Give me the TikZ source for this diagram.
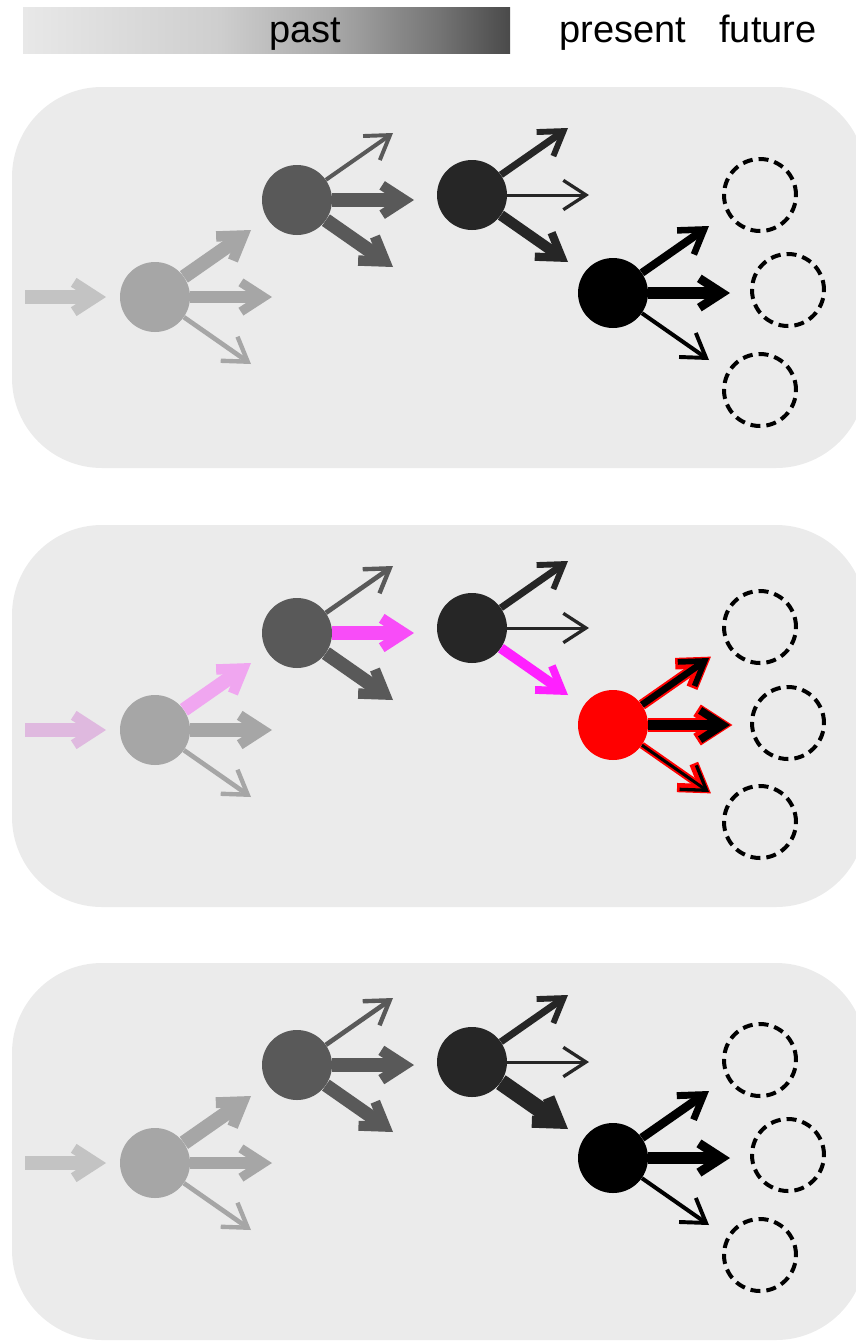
\documentclass[tikz,border=0pt]{standalone}
\usepackage{fontspec}
\setmainfont{Liberation Sans}
\usetikzlibrary{arrows.meta,calc}

% palette
\definecolor{panel}{HTML}{EBEBEB}
\definecolor{gIn}{HTML}{C3C3C3}
\definecolor{gA}{HTML}{A6A6A6}
\definecolor{gB}{HTML}{595959}
\definecolor{gC}{HTML}{262626}
\definecolor{pinkIn}{HTML}{DFB9DF}
\definecolor{pinkA}{HTML}{F0A6F0}
\definecolor{magB}{HTML}{F84CF8}
\definecolor{magC}{HTML}{FF20FF}
\definecolor{hot}{HTML}{FF0000}
\definecolor{bar0}{gray}{0.91}
\definecolor{bar1}{gray}{0.81}
\definecolor{bar2}{gray}{0.67}
\definecolor{bar3}{gray}{0.46}
\definecolor{bar4}{gray}{0.29}

% time bar: light on the left, dark on the right
\pgfdeclarehorizontalshading{pastbar}{100bp}{color(0bp)=(bar0); color(25bp)=(bar0);
  color(45bp)=(bar1); color(56.3bp)=(bar2); color(67.5bp)=(bar3); color(75bp)=(bar4); color(100bp)=(bar4)}

% tips of the three branches leaving a state
\newcommand\mktips[1]{%
  \coordinate (#1u) at ($(#1)+(96,-67)$);
  \coordinate (#1r) at ($(#1)+(117,0)$);
  \coordinate (#1d) at ($(#1)+(96,67)$);}

\tikzset{
  panelbox/.style={fill=panel, rounded corners=67.5pt},
  dot/.style={circle, minimum size=52.5pt, inner sep=0pt, fill=#1},
  slot/.style={circle, minimum size=54pt, inner sep=0pt, draw=black,
    line width=3pt, dash pattern=on 7.5pt off 4.5pt},
  arr/.style={line width=#1,
    -{Straight Barb[length=17pt,width=22pt,line width=1pt 0.65]}},
  rim/.style={hot, line width=#1, shorten >=-1.8pt,
    -{Straight Barb[length=17pt,width=22pt,line width=3.5pt 0.65]}},
  lbl/.style={font=\fontsize{28.5pt}{32pt}\selectfont, anchor=base, inner sep=0pt},
}

\begin{document}
\begin{tikzpicture}[x=0.75pt, y=-0.75pt]
\useasboundingbox (0,0) rectangle (856,1343);
\clip (0,0) rectangle (856,1343);

% ---------- header ----------
\shade[shading=pastbar] (23,7) rectangle (510,53);
\node[lbl] (past) at (305,42) {past};
\node[lbl] (present) at (623,42) {present};
\node[lbl] (future) at (768,42) {future};

% ---------- panel 1 ----------
\fill[panelbox] (12,87) rectangle (866,468);
\node[dot=gA] (A1) at (155,297) {};
\node[dot=gB] (B1) at (297,200) {};
\node[dot=gC] (C1) at (472,195) {};
\node[dot=black] (D1) at (613,293) {};
\node[slot] (S1a) at (760,195) {};
\node[slot] (S1b) at (788,290) {};
\node[slot] (S1c) at (760,390) {};
\coordinate (I1s) at (25,297);
\coordinate (I1e) at (106,297);
\mktips{A1}\mktips{B1}\mktips{C1}\mktips{D1}
\draw[arr=10.5pt, gIn] (I1s) -- (I1e);
\draw[arr=10.5pt, gA] (A1) -- (A1u);
\draw[arr=9pt, gA] (A1) -- (A1r);
\draw[arr=3.5pt, gA] (A1) -- (A1d);
\draw[arr=3pt, gB] (B1) -- (B1u);
\draw[arr=10pt, gB] (B1) -- (B1r);
\draw[arr=10.5pt, gB] (B1) -- (B1d);
\draw[arr=5.25pt, gC] (C1) -- (C1u);
\draw[arr=2.25pt, gC] (C1) -- (C1r);
\draw[arr=8pt, gC] (C1) -- (C1d);
\draw[arr=6pt, black] (D1) -- (D1u);
\draw[arr=8.5pt, black] (D1) -- (D1r);
\draw[arr=3pt, black] (D1) -- (D1d);

% ---------- panel 2 ----------
\fill[panelbox] (12,525) rectangle (866,907);
\node[dot=gA] (A2) at (155,730) {};
\node[dot=gB] (B2) at (297,633) {};
\node[dot=gC] (C2) at (472,628) {};
\node[dot=hot] (D2) at (613,725) {};
\node[slot] (S2a) at (760,627) {};
\node[slot] (S2b) at (788,723) {};
\node[slot] (S2c) at (760,822) {};
\coordinate (I2s) at (25,730);
\coordinate (I2e) at (106,730);
\mktips{A2}\mktips{B2}\mktips{C2}\mktips{D2}
\draw[arr=10.5pt, pinkIn] (I2s) -- (I2e);
\draw[arr=10.5pt, pinkA] (A2) -- (A2u);
\draw[arr=10.5pt, gA] (A2) -- (A2r);
\draw[arr=3.5pt, gA] (A2) -- (A2d);
\draw[arr=3.5pt, gB] (B2) -- (B2u);
\draw[arr=10.5pt, magB] (B2) -- (B2r);
\draw[arr=10.5pt, gB] (B2) -- (B2d);
\draw[arr=5.25pt, gC] (C2) -- (C2u);
\draw[arr=2.25pt, gC] (C2) -- (C2r);
\draw[arr=7.5pt, magC] (C2) -- (C2d);
\draw[rim=8pt] (D2) -- (D2u);
\draw[rim=10.5pt] (D2) -- (D2r);
\draw[rim=5.25pt] (D2) -- (D2d);
\draw[arr=5pt, black] (D2) -- (D2u);
\draw[arr=7.5pt, black] (D2) -- (D2r);
\draw[arr=2.25pt, black] (D2) -- (D2d);

% ---------- panel 3 ----------
\fill[panelbox] (12,963) rectangle (866,1340);
\node[dot=gA] (A3) at (155,1163) {};
\node[dot=gB] (B3) at (297,1065) {};
\node[dot=gC] (C3) at (472,1062) {};
\node[dot=black] (D3) at (613,1158) {};
\node[slot] (S3a) at (760,1060) {};
\node[slot] (S3b) at (788,1155) {};
\node[slot] (S3c) at (760,1255) {};
\coordinate (I3s) at (25,1163);
\coordinate (I3e) at (106,1163);
\mktips{A3}\mktips{B3}\mktips{C3}\mktips{D3}
\draw[arr=10.5pt, gIn] (I3s) -- (I3e);
\draw[arr=11pt, gA] (A3) -- (A3u);
\draw[arr=9pt, gA] (A3) -- (A3r);
\draw[arr=3.5pt, gA] (A3) -- (A3d);
\draw[arr=3.5pt, gB] (B3) -- (B3u);
\draw[arr=11pt, gB] (B3) -- (B3r);
\draw[arr=10pt, gB] (B3) -- (B3d);
\draw[arr=5.25pt, gC] (C3) -- (C3u);
\draw[arr=2.25pt, gC] (C3) -- (C3r);
\draw[arr=12.5pt, gC] (C3) -- (C3d);
\draw[arr=6.5pt, black] (D3) -- (D3u);
\draw[arr=9pt, black] (D3) -- (D3r);
\draw[arr=3pt, black] (D3) -- (D3d);
\end{tikzpicture}
\end{document}
